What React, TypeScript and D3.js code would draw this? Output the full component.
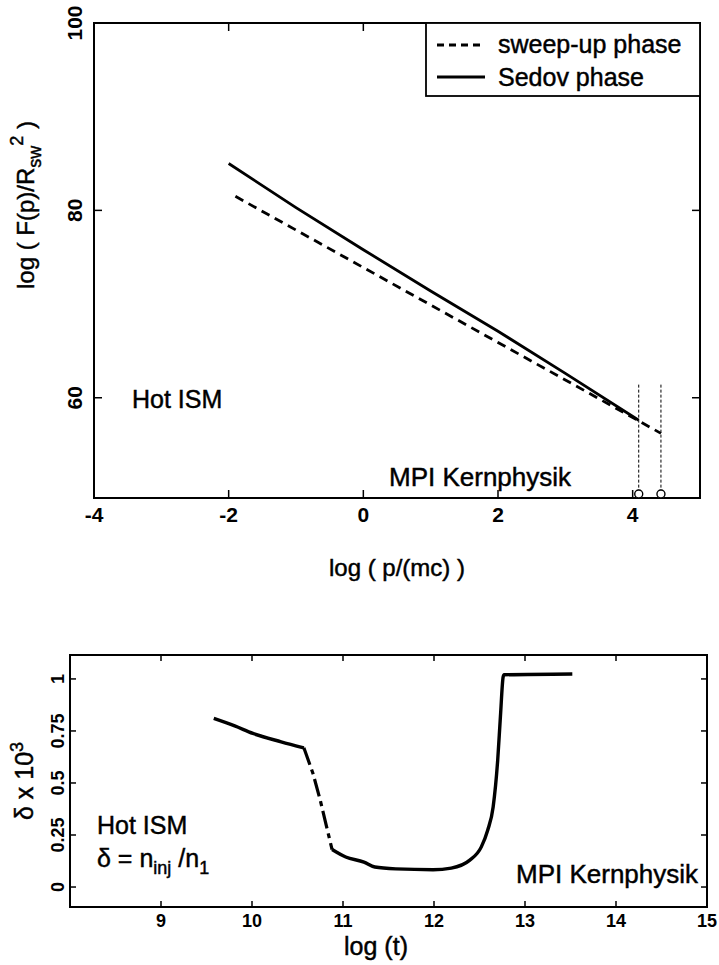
import React from "react";
import * as d3 from "d3";

// ---------- Top panel data ----------
const topXTicks = [-4, -2, 0, 2, 4];
const topYTicks = [60, 80, 100];
const sedovX = [-2, -1, 0, 1, 2, 3, 4.09];
const sedovY = [85.0, 80.3, 75.8, 71.4, 67.1, 62.6, 57.6];
const sweepX = [-1.9, 0, 2, 3.4, 4.42];
const sweepY = [81.5, 73.9, 65.9, 60.3, 56.2];
const markerX = [4.09, 4.42];
const markerTop = 61.4;

// ---------- Bottom panel data ----------
const botXTicks = [9, 10, 11, 12, 13, 14, 15];
const botYTicks = [0, 0.25, 0.5, 0.75, 1];
const botYTickLabels = ["0", "0.25", "0.5", "0.75", "1"];
const earlyX = [9.58, 9.81, 10.01, 10.32, 10.57];
const earlyY = [0.81, 0.774, 0.738, 0.698, 0.669];
const dropX = [10.57, 10.67, 10.75, 10.82, 10.88];
const dropY = [0.669, 0.546, 0.417, 0.289, 0.18];
const lateX = [10.88, 11.03, 11.23, 11.35, 11.58, 11.99, 12.19, 12.39, 12.52, 12.59, 12.65, 12.70, 12.73, 12.76, 12.77, 13.52];
const lateY = [0.18, 0.144, 0.12, 0.096, 0.087, 0.083, 0.091, 0.128, 0.193, 0.273, 0.385, 0.61, 0.82, 1.01, 1.02, 1.024];

const FONT = "'Liberation Sans', Arial, Helvetica, sans-serif";
const zip = (xs: number[], ys: number[]) => xs.map((x, i) => [x, ys[i]] as [number, number]);

// heavier regular text (scan look)
const heavy = { stroke: "#000", strokeWidth: 0.45 } as const;

export default function App() {
  // top scales
  const tx = d3.scaleLinear().domain([-4, 5]).range([94, 700]);
  const ty = d3.scaleLinear().domain([49.3, 100]).range([498, 23]);
  const tLine = d3.line<[number, number]>().x(d => tx(d[0])).y(d => ty(d[1]));

  // bottom scales
  const bx = d3.scaleLinear().domain([8, 15]).range([70, 707]);
  const by = d3.scaleLinear().domain([-0.096, 1.115]).range([907, 655]);
  const bLine = d3.line<[number, number]>().x(d => bx(d[0])).y(d => by(d[1])).curve(d3.curveMonotoneX);
  const bLineLin = d3.line<[number, number]>().x(d => bx(d[0])).y(d => by(d[1]));

  const tl = 8;
  const [tx0, tx1] = tx.range();
  const [ty0, ty1] = ty.range();
  const [bx0, bx1] = bx.range();
  const [by0, by1] = by.range();

  return (
    <svg width={719} height={965} style={{ position: "absolute", left: 0, top: 0, background: "#fff" }} fontFamily={FONT}>
      <rect x={0} y={0} width={719} height={965} fill="#fff" />

      {/* ================= TOP PANEL ================= */}
      <rect x={tx0} y={ty1} width={tx1 - tx0} height={ty0 - ty1} fill="none" stroke="#000" strokeWidth={2} />
      {topXTicks.map(v => (
        <g key={"tx" + v}>
          <line x1={tx(v)} x2={tx(v)} y1={ty0} y2={ty0 - tl} stroke="#000" strokeWidth={1.5} />
          {v > -4 && <line x1={tx(v)} x2={tx(v)} y1={ty1} y2={ty1 + tl} stroke="#000" strokeWidth={1.5} />}
          <text x={tx(v)} y={522} fontSize={21} fontWeight="bold" textAnchor="middle">{v < 0 ? "-" + Math.abs(v) : v}</text>
        </g>
      ))}
      {topYTicks.map(v => (
        <g key={"ty" + v}>
          <line x1={tx0} x2={tx0 + tl} y1={ty(v)} y2={ty(v)} stroke="#000" strokeWidth={1.5} />
          <line x1={tx1} x2={tx1 - tl} y1={ty(v)} y2={ty(v)} stroke="#000" strokeWidth={1.5} />
          <text transform={`translate(${82},${ty(v)}) rotate(-90)`} fontSize={21} fontWeight="bold" textAnchor="middle">{v}</text>
        </g>
      ))}

      {/* marker vertical lines */}
      {markerX.map(v => (
        <g key={"m" + v}>
          <line x1={tx(v)} x2={tx(v)} y1={ty(markerTop)} y2={ty0 - 4} stroke="#000" strokeWidth={1} strokeDasharray="3,2" />
          <circle cx={tx(v)} cy={ty0 - 4} r={4} fill="#fff" stroke="#000" strokeWidth={1.4} />
        </g>
      ))}

      <path d={tLine(zip(sweepX, sweepY)) || ""} fill="none" stroke="#000" strokeWidth={2.8} strokeDasharray="9,6" />
      <path d={tLine(zip(sedovX, sedovY)) || ""} fill="none" stroke="#000" strokeWidth={2.8} />

      {/* legend */}
      <rect x={426} y={ty1} width={tx1 - 426} height={96 - ty1} fill="#fff" stroke="#000" strokeWidth={1.8} />
      <line x1={437} x2={485} y1={45} y2={45} stroke="#000" strokeWidth={2.8} strokeDasharray="7,5" />
      <text x={498} y={53} fontSize={25} {...heavy}>sweep-up phase</text>
      <line x1={437} x2={485} y1={77} y2={77} stroke="#000" strokeWidth={2.8} />
      <text x={498} y={86} fontSize={25} {...heavy}>Sedov phase</text>

      <text x={132} y={408} fontSize={25} {...heavy}>Hot ISM</text>
      <text x={389} y={486} fontSize={26} {...heavy}>MPI Kernphysik</text>

      <text x={397} y={576} fontSize={24} textAnchor="middle" {...heavy}>log ( p/(mc) )</text>
      <text transform={`translate(34,205) rotate(-90)`} fontSize={24} textAnchor="middle" {...heavy}>
        log ( F(p)/R<tspan fontSize={18} dy={7}>sw</tspan><tspan fontSize={18} dy={-18}>2</tspan><tspan dy={11}> )</tspan>
      </text>

      {/* ================= BOTTOM PANEL ================= */}
      <rect x={bx0} y={by1} width={bx1 - bx0} height={by0 - by1} fill="none" stroke="#000" strokeWidth={2} />
      {botXTicks.filter(v => v < 15).map(v => (
        <g key={"bx" + v}>
          <line x1={bx(v)} x2={bx(v)} y1={by0} y2={by0 - 6} stroke="#000" strokeWidth={1.5} />
          <line x1={bx(v)} x2={bx(v)} y1={by1} y2={by1 + 6} stroke="#000" strokeWidth={1.5} />
        </g>
      ))}
      {botXTicks.map(v => (
        <text key={"bxl" + v} x={bx(v)} y={927} fontSize={18} fontWeight="bold" textAnchor="middle">{v}</text>
      ))}
      {botYTicks.map((v, i) => (
        <g key={"by" + v}>
          <line x1={bx0} x2={bx0 + 6} y1={by(v)} y2={by(v)} stroke="#000" strokeWidth={1.5} />
          <line x1={bx1} x2={bx1 - 6} y1={by(v)} y2={by(v)} stroke="#000" strokeWidth={1.5} />
          <text transform={`translate(${64},${by(v)}) rotate(-90)`} fontSize={18} fontWeight="bold" textAnchor="middle">{botYTickLabels[i]}</text>
        </g>
      ))}

      <path d={bLine(zip(earlyX, earlyY)) || ""} fill="none" stroke="#000" strokeWidth={3.4} />
      <path d={bLineLin(zip(dropX, dropY)) || ""} fill="none" stroke="#000" strokeWidth={3.2} strokeDasharray="18,5,5,5" />
      <path d={bLine(zip(lateX, lateY)) || ""} fill="none" stroke="#000" strokeWidth={3.4} />

      <text x={97} y={834} fontSize={25} {...heavy}>Hot ISM</text>
      <text x={97} y={867} fontSize={25} {...heavy}>
        δ = n<tspan fontSize={18} dy={7}>inj</tspan><tspan dy={-7}> /n</tspan><tspan fontSize={18} dy={7}>1</tspan>
      </text>
      <text x={516} y={883} fontSize={26} {...heavy}>MPI Kernphysik</text>

      <text x={376} y={955} fontSize={25} textAnchor="middle" {...heavy}>log (t)</text>
      <text transform={`translate(33,781) rotate(-90)`} fontSize={25} textAnchor="middle" {...heavy}>
        δ x 10<tspan fontSize={18} dy={-10}>3</tspan>
      </text>
    </svg>
  );
}
